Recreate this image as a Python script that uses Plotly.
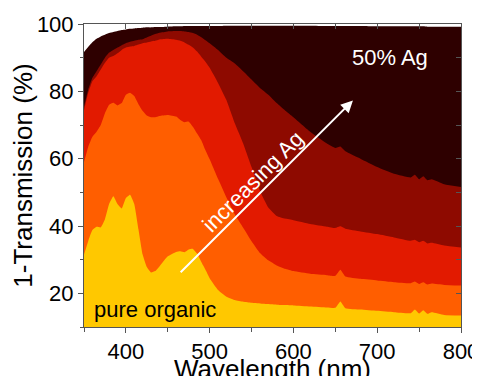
import plotly.graph_objects as go

# shared wavelength grid (nm)
wavelength = [350, 355, 360, 365, 370, 375, 380, 385, 390, 395, 400, 405, 410, 415, 420,
              425, 430, 435, 440, 450, 460, 465, 470, 475, 480, 485, 490, 495, 500, 510,
              520, 530, 540, 550, 560, 570, 580, 590, 600, 620, 640, 650, 656, 662, 680,
              700, 720, 740, 745, 750, 755, 760, 765, 780, 800]

ag50 = [91.7, 93.2, 94.6, 95.6, 96.3, 96.8, 97.3, 97.6, 97.9, 98.2, 98.4, 98.6, 98.7, 98.8, 98.9,
        99.0, 99.0, 99.1, 99.1, 99.2, 99.3, 99.3, 99.4, 99.4, 99.4, 99.4, 99.4, 99.4, 99.4, 99.4,
        99.5, 99.5, 99.5, 99.5, 99.5, 99.5, 99.5, 99.5, 99.5, 99.5, 99.4, 99.4, 99.4, 99.4, 99.4,
        99.3, 99.3, 99.3, 99.3, 99.3, 99.3, 99.2, 99.2, 99.2, 99.2]

ag_high = [75.5, 80.5, 84.0, 86.0, 88.0, 90.0, 91.5, 92.3, 93.0, 93.7, 94.3, 94.7, 95.0, 95.3, 95.5,
           96.0, 96.5, 97.0, 97.4, 97.8, 97.9, 97.9, 97.8, 97.6, 97.3, 96.8, 96.1, 95.2, 94.3, 92.3,
           90.0, 88.3, 86.0, 83.5, 81.0, 79.0, 76.5, 74.3, 72.3, 68.0, 64.5, 63.2, 63.6, 62.2, 60.0,
           57.5, 55.5, 54.4, 55.2, 53.9, 54.8, 53.6, 53.9, 52.4, 51.6]

ag_mid = [74.4, 79.5, 83.0, 84.5, 86.5, 88.5, 90.0, 90.5, 91.3, 92.3, 93.0, 93.3, 93.5, 93.9, 94.3,
          94.5, 94.8, 95.0, 95.4, 95.6, 95.3, 95.0, 94.5, 93.8, 93.0, 91.8, 90.3, 88.8, 87.0, 82.5,
          77.4, 70.5, 64.5, 57.5, 50.5, 45.5, 43.0, 42.2, 41.7, 40.6, 39.8, 39.4, 39.9, 39.2, 38.4,
          37.6, 36.6, 35.6, 35.9, 35.2, 35.6, 34.8, 35.0, 34.2, 33.6]

ag_low = [59.0, 63.5, 66.5, 68.0, 70.0, 73.5, 76.0, 76.6, 75.8, 76.5, 79.0, 79.6, 78.6, 76.2, 74.2,
          72.8, 72.3, 72.3, 72.7, 73.0, 72.5, 71.5, 70.8, 71.0, 69.5, 67.5, 65.5, 62.5, 59.8, 54.0,
          48.5, 43.5, 39.5, 35.5, 32.0, 29.8, 28.3, 27.3, 26.6, 25.8, 25.4, 25.2, 27.0, 25.0, 24.3,
          23.8, 23.3, 23.0, 23.5, 22.8, 23.3, 22.6, 22.9, 22.5, 22.3]

organic = [31.5, 35.5, 38.8, 39.8, 39.6, 42.0, 46.5, 48.8, 46.5, 45.2, 48.3, 49.3, 46.5, 39.0, 31.5,
           27.8, 26.2, 26.6, 28.0, 31.0, 32.3, 32.5, 32.2, 33.0, 33.2, 31.8, 29.3, 27.0, 24.5, 21.0,
           19.0, 18.0, 17.5, 17.2, 17.0, 16.8, 16.6, 16.5, 16.4, 16.1, 15.8, 15.7, 17.6, 15.6, 15.2,
           14.8, 14.4, 14.1, 15.2, 14.0, 15.0, 13.9, 14.4, 13.6, 13.4]

series = [
    ("50% Ag", ag50, "#2e0000"),
    ("high Ag", ag_high, "#8e0a00"),
    ("mid Ag", ag_mid, "#e21a00"),
    ("low Ag", ag_low, "#ff5e00"),
    ("pure organic", organic, "#ffc800"),
]

FONT = "Liberation Sans, Arial, sans-serif"
AXC = "#555555"
FS = 22

fig = go.Figure()
for name, vals, col in series:
    fig.add_trace(go.Scatter(
        x=wavelength, y=vals, name=name, mode="lines",
        line=dict(width=0, color=col, shape="spline", smoothing=0.4),
        fill="tozeroy", fillcolor=col, showlegend=False, hoverinfo="skip"))

# empty trace for the mirrored (top/right) axes
fig.add_trace(go.Scatter(x=[], y=[], xaxis="x2", yaxis="y2", showlegend=False))

# the page adds an 8px body margin, so the figure is placed at (8, 8)
fig.update_layout(
    width=472, height=376,
    margin=dict(l=76, r=19, t=16, b=57),
    paper_bgcolor="white", plot_bgcolor="white",
    font=dict(family=FONT, size=FS, color="black"),
    xaxis=dict(range=[350, 800], tickvals=[400, 500, 600, 700, 800], automargin=False,
               ticks="outside", ticklen=5, tickcolor=AXC, showline=True, linecolor=AXC,
               showgrid=False, zeroline=False,
               minor=dict(tickvals=[350, 450, 550, 650, 750], ticks="outside", ticklen=4,
                          tickcolor=AXC, showgrid=False),
               title=dict(text="Wavelength (nm)", standoff=1)),
    yaxis=dict(range=[10, 100], tickvals=[20, 40, 60, 80, 100], automargin=False,
               ticks="outside", ticklen=5, tickcolor=AXC, showline=True, linecolor=AXC,
               showgrid=False, zeroline=False,
               minor=dict(tickvals=[10, 30, 50, 70, 90], ticks="outside", ticklen=3,
                          tickcolor=AXC, showgrid=False),
               title=dict(text="1-Transmission (%)", standoff=0)),
    xaxis2=dict(overlaying="x", side="top", anchor="y", range=[350, 800], automargin=False,
                tickvals=[350, 400, 450, 500, 550, 600, 650, 700, 750, 800],
                ticks="inside", ticklen=5, tickcolor=AXC, showticklabels=False,
                showline=True, linecolor=AXC, showgrid=False, zeroline=False),
    yaxis2=dict(overlaying="y", side="right", anchor="x", range=[10, 100], automargin=False,
                tickvals=[10, 20, 30, 40, 50, 60, 70, 80, 90, 100],
                ticks="inside", ticklen=5, tickcolor=AXC, showticklabels=False,
                showline=True, linecolor=AXC, showgrid=False, zeroline=False),
    annotations=[
        dict(x=715, y=90.1, xref="x", yref="y", text="50% Ag", showarrow=False,
             font=dict(color="white", size=FS, family=FONT)),
        dict(x=359.5, y=15.3, xref="x", yref="y", text="pure organic", showarrow=False,
             xanchor="left", font=dict(color="black", size=FS, family=FONT)),
        dict(x=671, y=77.3, ax=463.6, ay=25.8, xref="x", yref="y", axref="x", ayref="y",
             text="", showarrow=True, arrowhead=2, arrowsize=1.2, arrowwidth=2,
             arrowcolor="white", standoff=0),
        dict(x=551.8, y=53.2, xref="x", yref="y", text="increasing Ag", showarrow=False,
             textangle=-45, font=dict(color="white", size=FS, family=FONT)),
    ],
)

fig.write_html("out.html")
